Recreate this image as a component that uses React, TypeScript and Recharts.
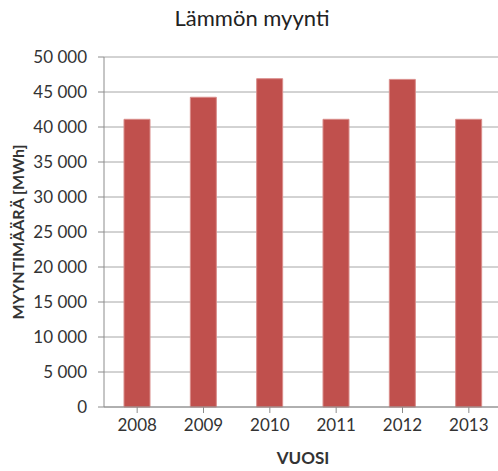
import * as React from "react"
import { BarChart, Bar, XAxis, YAxis, CartesianGrid, Label } from "recharts"

const years = ["2008", "2009", "2010", "2011", "2012", "2013"]
const sales = [41100, 44250, 46900, 41100, 46800, 41100]
const yTicks = [0, 5000, 10000, 15000, 20000, 25000, 30000, 35000, 40000, 45000, 50000]

const data = years.map((year, i) => ({ year, sales: sales[i] }))

const font = "Lato, 'Open Sans', sans-serif"
const fmt = (v: number) => v.toLocaleString("en-US").replace(/,/g, " ")

export default function App() {
  return (
    <div style={{ position: "absolute", left: 0, top: 0, width: 498, height: 471, overflow: "hidden", background: "#fff", fontFamily: font }}>
      <div style={{ position: "absolute", top: 4, left: 0, width: 502, textAlign: "center", fontSize: 22, color: "#222" }}>
        <span style={{ position: "relative", left: 1 }}>Lämmön myynti</span>
      </div>
      <BarChart
        width={502}
        height={471}
        data={data}
        margin={{ top: 57, right: 0, left: 0, bottom: 34 }}
        barCategoryGap="30%"
      >
        <CartesianGrid vertical={false} stroke="#a6a6a6" />
        <XAxis
          dataKey="year"
          height={30}
          stroke="#8c8c8c"
          tickSize={6}
          tickMargin={6}
          tick={{ fill: "#333", fontSize: 17, fontFamily: font }}
        >
          <Label
            content={() => (
              <text x={303} y={464} textAnchor="middle" fontSize={17} fontWeight="bold" fill="#333" fontFamily={font}>
                VUOSI
              </text>
            )}
          />
        </XAxis>
        <YAxis
          width={104}
          domain={[0, 50000]}
          ticks={yTicks}
          interval={0}
          tickFormatter={fmt}
          stroke="#8c8c8c"
          tickSize={6}
          tickMargin={11}
          tick={{ fill: "#333", fontSize: 17, fontFamily: font }}
        >
          <Label
            content={() => (
              <text
                x={0}
                y={0}
                transform="translate(24 232) rotate(-90)"
                textAnchor="middle"
                fontSize={16}
                fontWeight="bold"
                fill="#333"
                fontFamily={font}
              >
                MYYNTIMÄÄRÄ [MWh]
              </text>
            )}
          />
        </YAxis>
        <Bar dataKey="sales" fill="#c0504d" stroke="#d98c8a" strokeWidth={1} barSize={26} isAnimationActive={false} />
      </BarChart>
    </div>
  )
}
